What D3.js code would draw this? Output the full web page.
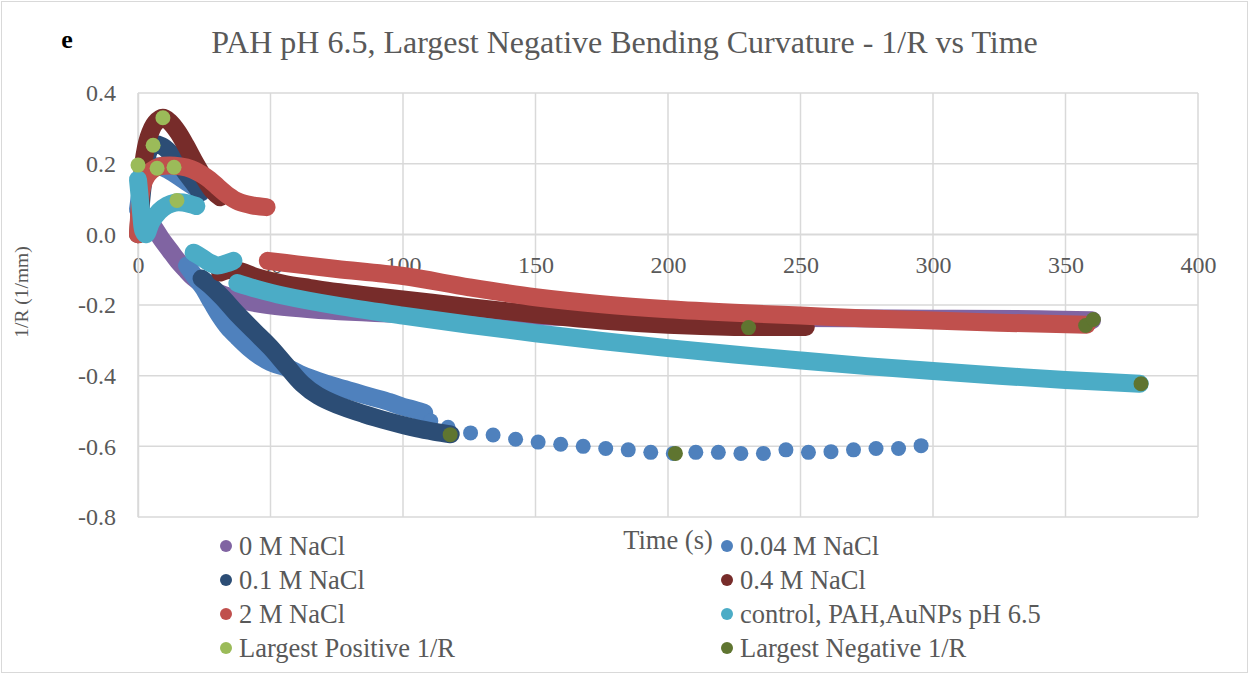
<!DOCTYPE html>
<html>
<head>
<meta charset="utf-8">
<script src="https://cdn.jsdelivr.net/npm/d3@7"></script>
<style>
  body { margin: 0; background: #fff; }
  text { font-family: "Liberation Serif", "Times New Roman", serif; }
</style>
</head>
<body>
<div id="chart"></div>
<script>
// values: [time (s), 1/R (1/mm)]
// dense traces are split where the recording jumps
const nacl0 = [[3,0.05],[6,0.02],[9,-0.015],[12,-0.045],[15,-0.075],[18,-0.1],[21,-0.123],[25,-0.145],[30,-0.165],[36,-0.18],[43,-0.193],[52,-0.203],[65,-0.212],[80,-0.219],[100,-0.225],[130,-0.23],[160,-0.233],[200,-0.235],[250,-0.237],[300,-0.239],[340,-0.24],[360,-0.243]];

const nacl004a = [[0,0.07],[2,0.15],[5,0.19],[9,0.19],[13,0.175],[17,0.155],[21,0.135],[24,0.12]];
const nacl004b = [[18.5,-0.088],[21,-0.115],[24.5,-0.15],[28,-0.195],[31,-0.232],[34,-0.263],[37.5,-0.29],[42,-0.322],[46,-0.345],[50,-0.362],[57,-0.38],[62,-0.398],[68,-0.415],[75,-0.432],[82,-0.447],[88,-0.46],[95,-0.475],[100,-0.488],[105,-0.498],[108,-0.505]];
const nacl004dots = [[110.5,-0.528],[117,-0.546],[125.5,-0.562],[134,-0.568],[142.5,-0.58],[151,-0.588],[159.5,-0.594],[168,-0.6],[176.5,-0.606],[185,-0.61],[193.5,-0.617],[202,-0.62],[210.5,-0.617],[219,-0.617],[227.5,-0.62],[236,-0.62],[244.5,-0.61],[253,-0.617],[261.5,-0.615],[270,-0.61],[278.5,-0.606],[287,-0.606],[295.5,-0.598]];

const nacl01a = [[0.5,0.03],[2,0.15],[4,0.235],[6,0.255],[9,0.25],[12,0.232],[15,0.205],[18,0.175],[21,0.145],[23.5,0.118]];
const nacl01b = [[24,-0.125],[28,-0.15],[32,-0.18],[37,-0.222],[44,-0.275],[50,-0.32],[56,-0.372],[62,-0.423],[68,-0.457],[75,-0.482],[85,-0.508],[95,-0.53],[105,-0.549],[112,-0.559],[118,-0.566]];

const nacl04a = [[0,0.0],[1,0.1],[2,0.2],[4,0.275],[6.5,0.315],[9.4,0.33],[12,0.318],[15,0.29],[18,0.252],[21,0.21],[24.5,0.165],[28,0.125],[31,0.105]];
const nacl04b = [[31,-0.108],[35,-0.1],[39,-0.105],[45,-0.122],[55,-0.14],[65,-0.152],[75,-0.163],[100,-0.184],[125,-0.206],[150,-0.226],[175,-0.244],[200,-0.256],[225,-0.262],[252,-0.262]];

const nacl2a = [[0,0.0],[0.5,0.06],[1,0.11],[2.5,0.155],[5,0.18],[8,0.192],[12,0.195],[16,0.192],[20,0.185],[24,0.17],[27,0.155],[30,0.135],[34,0.11],[38,0.092],[43,0.082],[48.5,0.077]];
const nacl2b = [[49,-0.075],[60,-0.085],[75,-0.098],[100,-0.118],[125,-0.15],[150,-0.178],[175,-0.198],[200,-0.212],[225,-0.222],[250,-0.23],[275,-0.238],[300,-0.244],[325,-0.25],[358,-0.256]];

const controlA = [[0,0.155],[0.7,0.1],[1.3,0.05],[2,0.01],[3,0.0],[5,0.035],[8,0.065],[11,0.082],[14,0.09],[17,0.09],[20,0.085],[22,0.08]];
const controlB = [[21,-0.052],[24,-0.065],[27,-0.08],[30,-0.088],[33,-0.083],[36,-0.075]];
const controlC = [[37.5,-0.138],[45,-0.155],[55,-0.174],[75,-0.202],[100,-0.23],[125,-0.256],[150,-0.28],[175,-0.302],[200,-0.322],[225,-0.34],[250,-0.357],[275,-0.373],[300,-0.387],[325,-0.4],[350,-0.412],[378,-0.423]];

const largestPos = [[0,0.196],[5.7,0.252],[7.2,0.187],[9.4,0.33],[13.6,0.19],[14.7,0.096]];
const largestNeg = [[117.8,-0.567],[202.8,-0.62],[230.4,-0.264],[357.6,-0.258],[360.5,-0.241],[378.5,-0.423]];

const xTicks = [0, 50, 100, 150, 200, 250, 300, 350, 400];
const yTicks = [0.4, 0.2, 0.0, -0.2, -0.4, -0.6, -0.8];

const series = [
  {name: "0 M NaCl", color: "#8064A2", segments: [nacl0]},
  {name: "0.04 M NaCl", color: "#4F81BD", segments: [nacl004a, nacl004b], dots: nacl004dots},
  {name: "0.1 M NaCl", color: "#2C4D75", segments: [nacl01a, nacl01b]},
  {name: "0.4 M NaCl", color: "#772C2A", segments: [nacl04a, nacl04b]},
  {name: "2 M NaCl", color: "#C0504D", segments: [nacl2a, nacl2b]},
  {name: "control, PAH,AuNPs pH 6.5", color: "#4BACC6", segments: [controlA, controlB, controlC]},
  {name: "Largest Positive 1/R", color: "#9BBB59", dots: largestPos},
  {name: "Largest Negative 1/R", color: "#5F7530", dots: largestNeg}
];

const width = 1249;
const height = 674;
const margin = {left: 138, right: 51, top: 93, bottom: 157};
const textColor = "#595959";
const gridColor = "#d9d9d9";

let svg = d3.select("#chart")
  .append("svg")
  .attr("width", width)
  .attr("height", height);

// chart area border
svg.append("rect")
  .attr("x", 1.5).attr("y", 1.5)
  .attr("width", width - 3).attr("height", height - 3)
  .attr("fill", "#fff")
  .attr("stroke", gridColor);

let xScale = d3.scaleLinear()
  .domain([0, 400])
  .range([margin.left, width - margin.right]);

let yScale = d3.scaleLinear()
  .domain([-0.8, 0.4])
  .range([height - margin.bottom, margin.top]);

// gridlines
svg.append("g")
  .selectAll("line")
  .data(yTicks)
  .enter().append("line")
  .attr("x1", xScale(0)).attr("x2", xScale(400))
  .attr("y1", d => yScale(d)).attr("y2", d => yScale(d))
  .attr("stroke", gridColor).attr("stroke-width", 1.5);

svg.append("g")
  .selectAll("line")
  .data(xTicks)
  .enter().append("line")
  .attr("x1", d => xScale(d)).attr("x2", d => xScale(d))
  .attr("y1", yScale(0.4)).attr("y2", yScale(-0.8))
  .attr("stroke", gridColor).attr("stroke-width", 1.5);

// axes
let xAxis = svg.append("g")
  .attr("transform", "translate(0," + yScale(0) + ")")
  .call(d3.axisBottom(xScale).tickValues(xTicks).tickSize(0).tickPadding(22).tickFormat(d3.format("d")));

let yAxis = svg.append("g")
  .attr("transform", "translate(" + xScale(0) + ",0)")
  .call(d3.axisLeft(yScale).tickValues(yTicks).tickSize(0).tickPadding(22).tickFormat(d3.format(".1f")));

[xAxis, yAxis].forEach(a => {
  a.select(".domain").attr("stroke", gridColor).attr("stroke-width", 1.5);
  a.selectAll("text")
    .attr("fill", textColor)
    .style("font-size", "24px")
    .style("font-family", "'Liberation Serif', serif");
});
yAxis.selectAll("text").text(d => d3.format(".1f")(d).replace("\u2212", "-"));

// series
let line = d3.line()
  .curve(d3.curveCatmullRom.alpha(0.5))
  .x(d => xScale(d[0]))
  .y(d => yScale(d[1]));

let plot = svg.append("g");

series.forEach(s => {
  (s.segments || []).forEach(seg => {
    plot.append("path")
      .attr("d", line(seg))
      .attr("fill", "none")
      .attr("stroke", s.color)
      .attr("stroke-width", 18)
      .attr("stroke-linecap", "round")
      .attr("stroke-linejoin", "round");
  });
  if (s.dots) {
    plot.append("g")
      .selectAll("circle")
      .data(s.dots)
      .enter().append("circle")
      .attr("cx", d => xScale(d[0]))
      .attr("cy", d => yScale(d[1]))
      .attr("r", 7.5)
      .attr("fill", s.color);
  }
});

// titles
svg.append("text")
  .attr("x", 67).attr("y", 48)
  .attr("text-anchor", "middle")
  .style("font-size", "26px")
  .style("font-weight", "bold")
  .attr("fill", "#000")
  .text("e");

svg.append("text")
  .attr("x", width / 2).attr("y", 53)
  .attr("text-anchor", "middle")
  .style("font-size", "32px")
  .attr("fill", textColor)
  .text("PAH pH 6.5, Largest Negative Bending Curvature - 1/R vs Time");

svg.append("text")
  .attr("transform", "translate(28,292) rotate(-90)")
  .attr("text-anchor", "middle")
  .style("font-size", "19.5px")
  .attr("fill", textColor)
  .text("1/R (1/mm)");

svg.append("text")
  .attr("x", (xScale(0) + xScale(400)) / 2).attr("y", 549)
  .attr("text-anchor", "middle")
  .style("font-size", "26.5px")
  .attr("fill", textColor)
  .text("Time (s)");

// legend, two columns
let legend = svg.append("g");
series.forEach((s, i) => {
  const col = i % 2;
  const row = Math.floor(i / 2);
  const lx = col === 0 ? 226 : 727;
  const ly = 546 + row * 34;
  legend.append("circle")
    .attr("cx", lx).attr("cy", ly).attr("r", 6)
    .attr("fill", s.color);
  legend.append("text")
    .attr("x", lx + 13).attr("y", ly)
    .attr("dy", "0.35em")
    .style("font-size", "26.5px")
    .attr("fill", textColor)
    .text(s.name);
});
</script>
</body>
</html>
